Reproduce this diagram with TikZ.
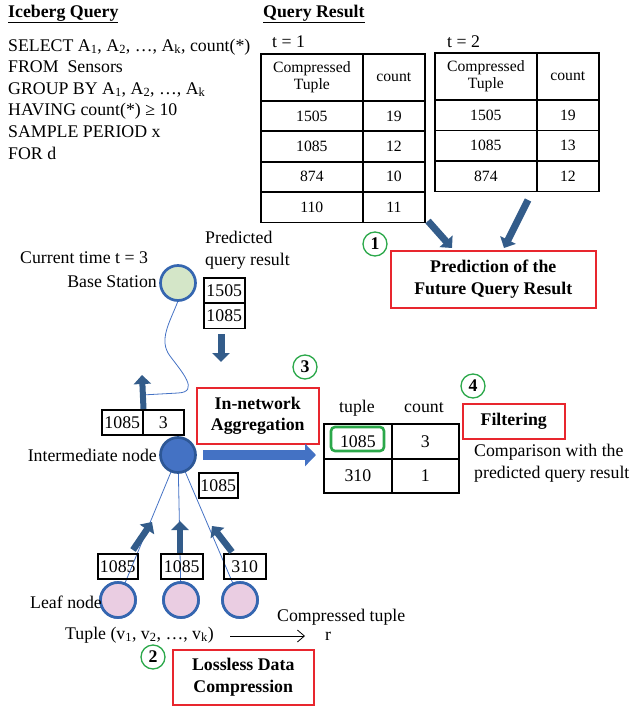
\documentclass[tikz,border=0pt]{standalone}
\usepackage{fontspec}
\setmainfont{Liberation Serif}
\usetikzlibrary{arrows.meta}

\definecolor{arrowblue}{HTML}{335C8A}
\definecolor{lightblue}{HTML}{4472C4}
\definecolor{rimblue}{HTML}{3566B0}
\definecolor{bsgreen}{HTML}{D4E6C8}
\definecolor{leafpink}{HTML}{EACDE2}
\definecolor{boxred}{HTML}{E8262E}
\definecolor{markgreen}{HTML}{2BA84A}

\newcommand\mainsize{\fontsize{17.8}{21.6}\selectfont}
\newcommand\tabsize{\fontsize{15.7}{17.7}\selectfont}

\tikzset{
  txt/.style={inner sep=0pt, font=\mainsize},
  cell/.style={draw, line width=1.7pt, anchor=north west, inner sep=0pt,
    font=\tabsize, align=center},
  numbox/.style={draw, line width=1.5pt, inner sep=0pt, minimum height=25pt,
    font=\mainsize, anchor=north west},
  redbox/.style={draw=boxred, line width=1.5pt, inner sep=0pt, anchor=north west,
    align=center, font=\mainsize\bfseries},
  stepmark/.style={circle, draw=markgreen, line width=1.3pt, minimum size=24pt,
    inner sep=0pt, font=\mainsize\bfseries},
  sensor/.style={circle, draw=rimblue, line width=2.7pt, minimum size=35pt, inner sep=0pt},
  fatarrow/.style={draw=arrowblue, line width=7pt, -{Triangle[length=9pt, width=17pt]}},
  link/.style={draw=lightblue, line width=0.8pt},
}

\begin{document}
\begin{tikzpicture}[x=1pt, y=-1pt]
\useasboundingbox (0,0) rectangle (631,706);

% ---- headings and the query ----
\node[txt, anchor=west] (iceTitle) at (8,14) {\bfseries\underline{Iceberg Query}};
\node[txt, anchor=west] (qrTitle) at (263,14) {\bfseries\underline{Query Result}};
\node[txt, anchor=west, align=left] (query) at (8,99) {%
  SELECT A\textsubscript{1}, A\textsubscript{2}, …, A\textsubscript{k}, count(*)\\
  FROM\ \ Sensors\\
  GROUP BY A\textsubscript{1}, A\textsubscript{2}, …, A\textsubscript{k}\\
  HAVING count(*) ≥ 10\\
  SAMPLE PERIOD x\\
  FOR d};

% ---- result table, t = 1 ----
\node[txt, anchor=west] (tone) at (272,42) {t = 1};
\node[cell, minimum width=102pt, minimum height=47pt] (a00) at (260,53) {Compressed\\Tuple};
\node[cell, minimum width=62pt, minimum height=47pt] (a01) at (362,53) {count};
\foreach \r/\k/\c [count=\i] in {100/1505/19, 130.4/1085/12, 160.8/874/10, 191.2/110/11} {
  \node[cell, minimum width=102pt, minimum height=30.4pt] (a\i0) at (260,\r) {\k};
  \node[cell, minimum width=62pt, minimum height=30.4pt] (a\i1) at (362,\r) {\c};
}

% ---- result table, t = 2 ----
\node[txt, anchor=west] (ttwo) at (447,42) {t = 2};
\node[cell, minimum width=102pt, minimum height=47pt] (b00) at (434,52) {Compressed\\Tuple};
\node[cell, minimum width=62pt, minimum height=47pt] (b01) at (536,52) {count};
\foreach \r/\k/\c [count=\i] in {99/1505/19, 129.5/1085/13, 160/874/12} {
  \node[cell, minimum width=102pt, minimum height=30.5pt] (b\i0) at (434,\r) {\k};
  \node[cell, minimum width=62pt, minimum height=30.5pt] (b\i1) at (536,\r) {\c};
}

% ---- step 1: prediction ----
\node[redbox, minimum width=205pt, minimum height=57pt] (pred) at (390,250)
  {Prediction of the\\Future Query Result};
\node[stepmark] (s1) at (375,244) {1};
\coordinate (p1s) at (428,221);
\coordinate (p1e) at (452,248);
\coordinate (p2s) at (528,200);
\coordinate (p2e) at (504,248);
\draw[fatarrow] (p1s) -- (p1e);
\draw[fatarrow] (p2s) -- (p2e);

% ---- base station ----
\coordinate (cj) at (142,395);
\draw[link] (178,301) .. controls (170,322) and (158,340) .. (170,356)
  .. controls (182,372) and (200,392) .. (178,393) -- (cj);
\node[sensor, fill=bsgreen] (bs) at (178,283) {};
\node[txt, anchor=west] (curtime) at (20,258) {Current time t = 3};
\node[txt, anchor=east] (bslabel) at (157,282) {Base Station};
\node[txt, anchor=west, align=left] (predlabel) at (205,250.5) {Predicted\\query result};
\node[numbox, minimum width=41pt] (pr1) at (203,277) {1505};
\node[numbox, minimum width=41pt] (pr2) at (203,302.5) {1085};
\coordinate (dn1) at (221,334);
\coordinate (dn2) at (221,362);
\draw[fatarrow] (dn1) -- (dn2);

% ---- intermediate node ----
\node[numbox, minimum width=41pt] (up1) at (101,409) {1085};
\node[numbox, minimum width=41pt] (up2) at (142,409) {3};
\coordinate (upe) at (142,375);
\draw[fatarrow, line width=6pt] (up1.north east) -- (upe);

% edges of the tree (drawn below the nodes)
\node[sensor, fill=leafpink] (leafA) at (118,600) {};
\node[sensor, fill=leafpink] (leafB) at (181,600) {};
\node[sensor, fill=leafpink] (leafC) at (240,600) {};
\coordinate (ic) at (178,455);
\draw[link] (ic) -- (leafA.center);
\draw[link] (ic) -- (leafB.center);
\draw[link] (ic) -- (leafC.center);
\node[sensor, fill=leafpink] at (leafA) {};
\node[sensor, fill=leafpink] at (leafB) {};
\node[sensor, fill=leafpink] at (leafC) {};

\node[sensor, fill=lightblue, draw=rimblue!85!black] (inter) at (ic) {};
\node[txt, anchor=east] (interlabel) at (157,455) {Intermediate node};
\node[numbox, minimum width=39pt] (down1) at (198,472) {1085};

% ---- step 3: in-network aggregation ----
\node[redbox, minimum width=122pt, minimum height=56pt] (agg) at (196,387)
  {In-network\\Aggregation};
\node[stepmark] (s3) at (305,367) {3};
\coordinate (ra1) at (203,455);
\coordinate (ra2) at (316,455);
\draw[draw=lightblue, line width=10pt, -{Triangle[length=11pt, width=22pt]}] (ra1) -- (ra2);

\node[txt] (tuplehead) at (357,408) {tuple};
\node[txt] (counthead) at (424,408) {count};
\node[cell, font=\mainsize, minimum width=68pt, minimum height=35pt] (c11) at (323,423) {1085};
\node[cell, font=\mainsize, minimum width=67pt, minimum height=35pt] (c12) at (391,423) {3};
\node[cell, font=\mainsize, minimum width=68pt, minimum height=34pt] (c21) at (323,458) {310};
\node[cell, font=\mainsize, minimum width=67pt, minimum height=34pt] (c22) at (391,458) {1};
\node[draw=markgreen, line width=2.6pt, rounded corners=4pt, minimum width=53pt,
  minimum height=24pt, inner sep=0pt] (hit) at (357.5,439) {};

% ---- step 4: filtering ----
\node[stepmark] (s4) at (473,386) {4};
\node[redbox, minimum width=102pt, minimum height=35pt] (filt) at (462,403) {Filtering};
\node[txt, anchor=west, align=left] (cmp) at (474,463.5)
  {Comparison with the\\predicted query result};

% ---- leaves ----
\node[numbox, minimum width=40pt] (lv1) at (97,553) {1085};
\node[numbox, minimum width=42pt] (lv2) at (160,553) {1085};
\node[numbox, minimum width=42pt] (lv3) at (223,553) {310};
\coordinate (l1s) at (133,550);
\coordinate (l1e) at (152,522);
\coordinate (l2s) at (180,553);
\coordinate (l2e) at (180,521);
\coordinate (l3s) at (232,552);
\coordinate (l3e) at (212,526);
\draw[fatarrow, line width=6.5pt] (l1s) -- (l1e);
\draw[fatarrow, line width=6.5pt] (l2s) -- (l2e);
\draw[fatarrow, line width=6.5pt] (l3s) -- (l3e);
\node[txt, anchor=west] (leaflabel) at (30,602) {Leaf node};

% ---- step 2: compression ----
\node[txt, anchor=west] (tuple) at (65,635)
  {Tuple (v\textsubscript{1}, v\textsubscript{2}, …, v\textsubscript{k})};
\coordinate (cm1) at (230,636);
\coordinate (cm2) at (305,636);
\draw[line width=0.8pt, -{Straight Barb[length=7pt, width=12pt]}] (cm1) -- (cm2);
\node[txt, anchor=west] (ctlabel) at (277,617) {Compressed tuple};
\node[txt] (rlabel) at (328,636) {r};
\node[stepmark] (s2) at (153,657) {2};
\node[redbox, minimum width=141pt, minimum height=55pt] (lossless) at (172,649)
  {Lossless Data\\Compression};
\end{tikzpicture}
\end{document}
